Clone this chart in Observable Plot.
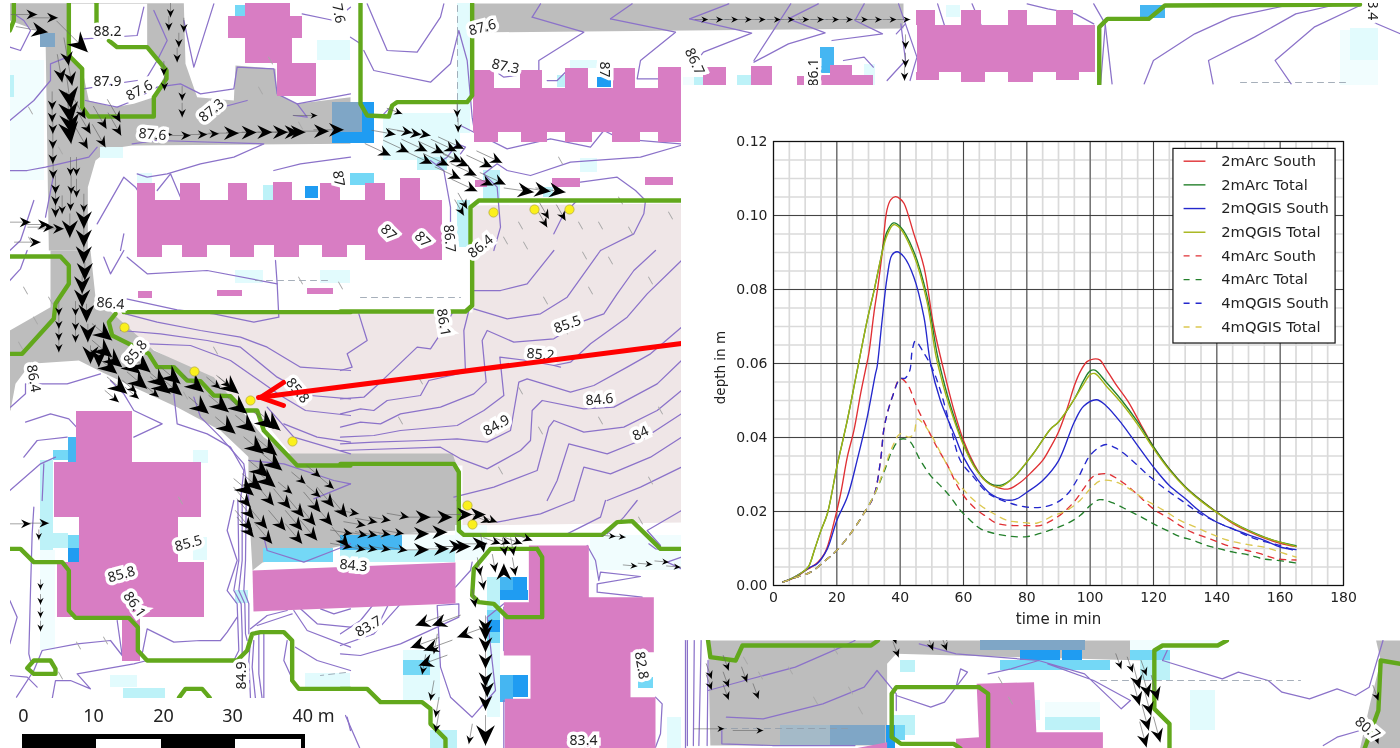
<!DOCTYPE html>
<html><head><meta charset="utf-8">
<script src="https://cdn.jsdelivr.net/npm/d3@7"></script>
<script src="https://cdn.jsdelivr.net/npm/@observablehq/plot@0.6"></script>
<style>
html,body{margin:0;padding:0;background:#fff;width:1400px;height:748px;overflow:hidden}
#map,#chart{position:absolute;left:0;top:0}
svg{display:block;background:transparent!important;filter:blur(.55px)}
</style></head><body><div id="map"></div><div id="chart"></div>
<script>
/* ---------- chart data: [minute, depth in m] ---------- */
const arc2South=[[3,.001],[5,.0015],[8,.0028],[10,.004],[12,.005],[14,.0063],[16,.0085],[17,.0104],[19,.0167],[21.2,.0248],[23.3,.0347],[25.4,.0419],[27.5,.0518],[29,.0581],[30.1,.0627],[31.7,.0735],[33,.081],[34.3,.0897],[35.8,.1014],[37,.1042],[38.5,.1051],[40,.1045],[41.2,.1033],[44.3,.0951],[47.5,.0861],[50.6,.07],[53.8,.058],[57,.0473],[60,.0392],[63.3,.0329],[66.3,.0288],[69.5,.027],[72,.0262],[74.3,.0261],[78,.0279],[82,.0311],[85,.0338],[87.5,.0374],[90,.0415],[93,.0485],[95,.054],[97,.058],[99,.0605],[101,.0612],[103,.061],[105,.0585],[108,.0545],[112,.0497],[116,.0435],[120,.0375],[125,.0315],[130,.0267],[135,.023],[140,.0198],[145,.0168],[150,.0146],[155,.0128],[160,.0114],[165,.0105]];
const arc2Total=[[3,.001],[6,.002],[9,.0035],[11,.005],[13,.0098],[15,.0149],[17,.0194],[20,.032],[23.3,.0446],[26.4,.058],[29.6,.0717],[31.7,.0795],[33.8,.088],[35.8,.0955],[37.9,.098],[40,.097],[44.2,.0905],[48.4,.0785],[51.7,.0625],[53.5,.056],[55.4,.05],[60,.0383],[64.3,.0311],[68.5,.0275],[72.2,.0272],[76,.0293],[82,.0356],[87.5,.0423],[90,.0442],[95,.0504],[98,.0555],[100,.058],[101.5,.0582],[105,.055],[110,.05],[115,.0442],[120,.0375],[125,.0315],[130,.0267],[135,.023],[140,.0198],[145,.0171],[150,.0149],[155,.0131],[160,.0117],[165,.0108]];
const qgis2South=[[3,.001],[6,.002],[9,.0035],[11.7,.005],[13.8,.0059],[17,.0099],[20,.0176],[23.3,.0239],[26.4,.0338],[29.6,.0455],[32.2,.0572],[32.7,.059],[34.3,.0717],[35.9,.0834],[37.4,.0893],[39,.0902],[41.2,.0888],[44.3,.0834],[47.5,.0726],[49.6,.06],[52.7,.05],[57,.041],[60,.0347],[64.3,.0288],[68.5,.0248],[72.7,.0232],[76.4,.0233],[80,.0252],[85,.0284],[90,.0337],[95,.0442],[98,.0485],[102,.0502],[105,.0486],[110,.0437],[115,.0378],[120,.032],[125,.027],[130,.0235],[135,.0198],[140,.0171],[145,.0153],[150,.0137],[155,.0122],[160,.0104],[165,.0097]];
const qgis2Total=[[3,.001],[6,.002],[9,.0035],[11,.005],[13,.0098],[15,.0149],[17,.0194],[20,.032],[23.3,.0446],[26.4,.058],[29.6,.0717],[31.7,.0795],[33.8,.088],[35.8,.0945],[37.9,.0975],[40,.0965],[44.2,.0895],[48.4,.077],[51.2,.0625],[53,.056],[54.8,.0505],[59.6,.0387],[63.8,.0315],[68,.0275],[71.2,.0266],[74.8,.0284],[82,.0356],[87.5,.0423],[90,.0442],[95,.0504],[98,.0545],[100,.057],[101.5,.0573],[105,.054],[110,.0492],[115,.0435],[120,.037],[125,.0312],[130,.0265],[135,.0228],[140,.0197],[145,.017],[150,.0148],[155,.013],[160,.0117],[165,.0105]];
const arc4South=[[3,.0009],[6.4,.002],[11.7,.0036],[17,.0072],[20,.0095],[24.3,.014],[28.5,.0194],[31.7,.0243],[33.8,.0338],[34.8,.0419],[35.9,.0464],[37.5,.0509],[40,.0559],[42.2,.0545],[45.3,.0482],[48.4,.0428],[51.6,.0374],[54.7,.0329],[58.9,.0257],[63.2,.0212],[67.4,.0185],[70.5,.0168],[75.8,.0162],[80,.0162],[84.2,.0162],[87.9,.0176],[91.6,.0198],[95.3,.023],[97.9,.0261],[101,.0295],[105.3,.0302],[109,.0286],[113.2,.0259],[116.9,.023],[120.6,.0203],[124.2,.0185],[128.4,.0162],[132.1,.0144],[136.3,.0131],[140.5,.0117],[144.7,.0104],[148.9,.0096],[153.7,.0086],[159,.0072],[165,.0069]];
const arc4Total=[[3,.0009],[6.4,.002],[11.7,.0036],[17,.0072],[20,.0095],[24.3,.014],[28.5,.0194],[31.7,.0243],[34.8,.0305],[37.5,.0365],[40,.0395],[42.7,.0392],[46.4,.0338],[49.6,.0297],[52.7,.027],[55.9,.0239],[59,.0203],[62.2,.0176],[65.4,.0153],[69.6,.0141],[74.9,.0133],[80,.0132],[84.2,.0141],[88.4,.0153],[92.6,.0167],[96.8,.0189],[100,.0216],[103,.0232],[107.2,.0223],[112,.0203],[116.2,.0185],[119.9,.0167],[124.2,.0149],[128.4,.0132],[132.6,.0122],[136.8,.0108],[141,.0099],[145.2,.009],[149.9,.0083],[154.7,.0072],[159,.0068],[165,.0061]];
const qgis4South=[[3,.0009],[6.4,.002],[11.7,.0036],[17,.0072],[20,.0095],[24.3,.014],[28.5,.0194],[31.7,.0243],[33.8,.0338],[34.8,.0419],[35.9,.0464],[37.5,.0509],[40,.0559],[41.5,.056],[43,.058],[43.8,.0635],[44.8,.0661],[47.5,.0628],[50.1,.0588],[52.7,.0527],[56,.0425],[59,.0338],[63,.0295],[67,.0255],[70,.0238],[75.3,.0221],[80,.0212],[85,.0212],[89.2,.0223],[92.9,.0248],[96,.0288],[98.1,.0324],[99.9,.0351],[102.9,.0374],[105,.0381],[108,.0372],[111.8,.0349],[115.5,.032],[119,.0293],[122.9,.0266],[126.6,.0243],[130.3,.0221],[134,.0198],[140,.0171],[145,.0153],[150.5,.0131],[155.8,.0117],[160,.0108],[165,.0092]];
const qgis4Total=[[3,.0009],[6.4,.002],[11.7,.0036],[17,.0072],[20,.0095],[24.3,.014],[28.5,.0194],[31.7,.0243],[34.8,.0311],[37.5,.0374],[40,.041],[42.7,.0401],[44.3,.041],[45.4,.045],[46.9,.0441],[49.6,.041],[52.7,.036],[57,.0293],[61.2,.0248],[65.4,.0216],[69.6,.0194],[73.8,.0176],[78,.0171],[83.3,.0169],[88.4,.0189],[92.6,.0203],[96.8,.023],[100,.0261],[103,.0282],[106,.0284],[109.5,.0275],[113.2,.0257],[117,.0234],[120.6,.0216],[124.2,.0198],[128.4,.0176],[133.2,.0158],[138,.014],[143.2,.0123],[149.5,.0111],[155.8,.0102],[160,.009],[165,.0077]];
const legendLabels=["2mArc South","2mArc Total","2mQGIS South","2mQGIS Total","4mArc South","4mArc Total","4mQGIS South","4mQGIS Total"];
const legendColors=["#e03034","#24802c","#2428cc","#a4b414","#e03034","#24802c","#2428cc","#dcc850"];
const seriesList=[arc2South,arc2Total,qgis2South,qgis2Total,arc4South,arc4Total,qgis4South,qgis4Total];
const xTicks=[0,20,40,60,80,100,120,140,160,180];
const yTicks=[0,.02,.04,.06,.08,.1,.12];

/* ---------- map data, read in map units (ox,oy,sx: crop origin & scale of each reading) ---------- */
const toMap=(rows,ox,oy,sx=3)=>rows.map(r=>r.map(([a,b])=>[ox+a/sx,oy+b/3]));
const parkPolys=[[[110,312],[472,312],[472,205],[681,203],[681,522],[462,525],[462,465],[300,465],[263,420],[200,375],[110,325]]];
const greyTop=toMap([[[10,8],[550,8],[555,190],[590,290],[700,300],[705,195],[825,205],[830,280],[890,310],[1050,290],[1050,430],[395,435],[330,445],[285,480],[262,560],[262,750],[145,750],[135,100],[28,60]]],0,0);
const greyDiag=toMap([[[28,240],[150,170],[150,0],[270,0],[285,140],[360,210],[460,300],[640,380],[790,560],[890,630],[1050,640],[1050,750],[745,750],[745,620],[660,540],[530,470],[400,410],[305,365],[235,330],[90,340],[45,400],[30,480],[28,480]]],0,250);
const greyBlock=[[[248,453],[452,453],[458,470],[458,530],[400,533],[262,562],[252,570],[248,500]],[[680,3],[903,3],[903,28],[470,32],[470,3]]];
const greyBottom=toMap([[[60,30],[1000,30],[1010,90],[470,70],[450,100],[450,345],[65,345]],[[1515,30],[1568,30],[1568,354],[1480,354],[1500,230],[1525,90]]],680,630,2.178);
const whiteInner=toMap([[[210,10],[440,10],[440,135],[500,210],[460,290],[400,310],[340,320],[265,300],[245,205],[205,165]]],0,0);
const faintCells=[[10,60,44,180],[590,535,681,570],[40,550,55,650],[1340,30,1378,85],[1045,702,1100,730],[1130,640,1220,650],[402,535,455,550],[455,525,487,560],[683,77,703,85]];
const paleCells=[[100,147,123,158],[317,40,350,60],[137,173,152,183],[350,173,360,185],[457,3,470,133],[383,113,460,160],[580,158,597,172],[570,60,597,68],[235,270,263,283],[320,270,350,283],[193,450,208,463],[110,675,137,687],[305,673,350,687],[193,537,207,560],[487,643,500,717],[667,717,681,748],[403,650,440,700],[946,5,960,17],[864,64,875,85],[1350,28,1378,60],[1030,700,1040,720],[1190,690,1215,730]];
const lightCells=[[10,75,14,97],[263,185,273,200],[417,157,447,170],[483,170,500,200],[557,75,565,87],[543,187,553,197],[457,200,470,247],[40,460,53,550],[53,533,68,548],[123,688,165,698],[235,590,248,603],[340,550,455,562],[487,577,500,610],[430,730,457,748],[1140,650,1170,680],[1045,717,1100,730],[893,715,915,735],[694,77,703,85],[737,75,751,85],[900,660,915,672]];
const midCells=[[235,5,245,16],[53,450,68,460],[68,535,80,548],[350,173,374,185],[487,610,500,620],[487,632,500,643],[403,660,430,675],[638,677,653,688],[263,548,333,562],[1130,650,1170,660],[893,725,905,740],[1000,660,1110,670]];
const blueCells=[[68,437,77,463],[500,577,513,590],[500,675,513,702],[340,535,402,550],[1140,5,1165,18],[820,47,834,73]];
const deepCells=[[305,186,318,198],[597,77,611,87],[68,548,80,562],[513,577,527,590],[500,590,528,600],[487,620,500,632],[513,675,528,697],[362,102,374,143],[332,132,362,143],[1062,650,1082,660],[1020,650,1060,660],[886,725,895,748]];
const greyBlueCells=[[332,102,362,132],[40,33,55,47],[830,725,885,745],[980,640,1085,650]];
const slateCells=[[780,725,830,745]];
const buildingRects=[[245,3,290,16],[228,16,302,38],[245,38,292,63],[277,63,316,96],
 [473,88,681,132],[474,70,494,88],[520,70,542,88],[565,68,588,88],[613,68,635,88],[658,67,681,88],[474,132,498,142],[521,132,547,142],[565,132,592,142],[612,132,640,142],[658,132,681,142],
 [552,178,580,187],[645,177,673,185],[475,180,487,187],
 [137,200,442,245],[137,183,155,200],[180,183,200,200],[228,183,247,200],[273,182,292,200],[320,183,340,200],[365,183,385,200],[400,178,420,200],[137,245,162,257],[182,245,207,257],[230,245,254,257],[274,245,299,257],[322,245,347,257],[365,245,442,260],
 [138,291,152,298],[217,290,242,296],[307,288,333,294],
 [76,411,132,462],[54,462,201,517],[79,517,178,562],[57,562,204,617],[122,617,140,661],
 [917,25,1095,72],[916,10,935,25],[961,10,981,25],[1008,10,1027,25],[1056,10,1073,25],[916,72,939,80],[961,72,985,82],[1008,72,1033,82],[1056,72,1079,80],
 [703,67,726,85],[751,66,772,85],[797,76,804,85],[821,75,873,85],[830,65,852,75]];
const buildingPolys=[[[252,570],[455,562],[455,603],[253,611]],
 ...toMap([[[565,135],[745,135],[745,290],[940,290],[940,455],[870,455],[870,590],[945,590],[945,748],[493,748],[493,595],[570,595],[570,465],[490,465],[490,305],[565,305]]],340,500),
 ...toMap([[[645,160],[770,155],[775,305],[920,305],[920,354],[600,354],[600,325],[650,320]],[[380,354],[450,335],[450,354]]],680,630,2.178)];
const contoursLeftTop=toMap([[[28,360],[100,300],[150,240],[150,190],[200,170]],[[28,140],[60,150],[90,90],[70,60],[40,40]],[[250,115],[410,105],[430,20]],[[550,60],[580,200],[640,10]],[[255,300],[350,320],[400,300],[470,260],[540,250],[600,280],[700,265],[710,200],[820,205],[830,280],[890,310],[920,350],[880,345]],[[890,310],[1050,280]],[[250,265],[340,250],[410,240]],[[395,430],[470,420],[790,430],[700,470],[600,490],[500,520],[440,530],[410,520]],[[28,510],[80,510],[135,500],[265,470],[290,440]],[[820,510],[900,490],[1050,470]],[[290,670],[370,530],[405,560],[430,600]],[[135,650],[160,520]],[[470,570],[510,520],[540,590]],[[905,40],[1000,60],[1050,20]],[[100,600],[60,720],[28,750]],[[360,750],[370,700]],[[460,30],[500,120],[470,180],[440,230]],[[590,340],[740,300]]],0,0);
const contoursLeftMid=toMap([[[378,145],[530,178],[640,190],[760,215],[835,200],[830,100],[825,30]],[[375,190],[470,215],[600,240],[720,260],[800,290],[900,350],[1050,360]],[[360,240],[480,250],[620,270],[720,290],[830,380],[930,435],[1050,445]],[[445,280],[570,285],[690,330],[840,435],[915,480],[1050,495]],[[380,20],[440,70],[620,60],[830,100]],[[28,90],[60,55],[80,0]],[[310,20],[330,70],[370,0]],[[75,515],[150,490],[205,505],[228,530]],[[70,620],[110,570],[200,560]],[[28,720],[120,640],[165,620]],[[300,370],[200,400],[75,400],[75,430],[30,470]],[[330,390],[370,430],[400,480],[485,520],[400,560]],[[520,430],[530,520],[620,550],[690,590],[730,660],[720,750]],[[580,440],[600,500],[660,560],[730,640],[745,750]],[[745,630],[850,640],[1000,690],[1050,700]],[[940,745],[1050,700]],[[850,520],[950,560],[1050,575]],[[800,470],[880,560],[1050,610]],[[130,640],[125,750]]],0,250);
const contoursPark=toMap([[[0,360],[35,350],[20,310],[80,270],[55,190]],[[0,445],[70,440],[120,395],[230,290],[270,295],[300,250],[340,180]],[[0,490],[60,475],[100,480],[140,450],[240,435],[265,390],[375,365],[370,240],[385,180]],[[0,530],[60,515],[120,520],[180,490],[300,470],[400,430],[437,395],[425,270],[440,240],[520,275],[640,265],[720,215],[790,190],[830,130],[880,60],[945,0]],[[0,560],[100,555],[180,540],[350,525],[430,480],[490,435],[478,320],[560,330],[640,345],[690,335],[750,280],[860,200],[920,130],[1023,30]],[[0,580],[100,575],[250,570],[350,565],[440,575],[510,540],[535,395],[560,385],[690,425],[760,405],[860,350],[930,310],[1023,230]],[[0,600],[300,590],[360,625],[440,655],[540,600],[570,570],[575,480],[605,450],[730,475],[820,470],[950,400],[1023,330]],[[340,740],[460,710],[590,660],[625,530],[640,510],[730,545],[850,530],[950,480],[1023,420]],[[620,750],[650,690],[685,580],[800,610],[900,570],[1023,490]],[[700,750],[730,650],[810,670],[930,620],[1023,560]],[[800,750],[900,710],[1023,650]],[[395,120],[480,120],[560,100],[640,0]],[[400,175],[500,205],[600,190],[680,140],[780,0]],[[640,345],[660,350]]],340,250);
const contoursLowerLeft=toMap([[[28,430],[50,350],[28,300]],[[100,20],[95,100],[90,270],[85,460],[90,480]],[[28,525],[80,530],[110,560]],[[48,590],[100,510],[125,450],[230,430],[330,420],[365,465],[350,360]],[[155,595],[165,540],[210,540],[270,565],[230,520],[400,490],[440,480]],[[425,460],[440,385],[520,425],[600,420],[660,420],[680,395],[710,350]],[[700,0],[680,90],[710,180],[680,270],[710,310],[715,450],[700,480]],[[712,0],[715,180],[700,270],[722,310],[725,400],[725,470]],[[725,0],[725,180],[715,270],[733,310],[735,400],[740,420]],[[737,0],[735,180],[730,270],[745,310],[745,400]],[[750,420],[745,480],[750,595]],[[760,420],[755,500],[765,595]],[[775,400],[775,520],[785,595]],[[790,400],[790,595]],[[750,385],[800,345],[860,330]],[[770,375],[860,345],[875,340]],[[880,330],[920,390],[1050,440]],[[900,325],[950,370],[1050,380]],[[960,325],[1000,340],[1050,325]],[[885,440],[950,480],[1050,510]],[[860,420],[850,480],[880,545]],[[790,110],[800,150],[910,185],[1000,150],[1050,130]],[[1040,650],[1050,690]]],0,500);
const contoursLowerMid=toMap([[[0,400],[60,360],[100,310]],[[0,435],[100,400],[180,310]],[[115,370],[145,310]],[[0,460],[60,465],[180,430],[290,380],[355,350],[355,310],[290,315],[300,500],[330,590],[395,650],[465,570],[440,350],[490,310]],[[345,260],[390,210],[395,185]],[[490,320],[490,450]],[[740,135],[765,180],[775,240],[780,215],[900,228],[770,250],[770,275],[905,290]],[[925,130],[945,145],[1023,150]],[[1023,170],[980,185],[1023,205]],[[15,645],[60,748]],[[945,590],[965,610],[960,700],[945,740]],[[700,0],[600,40],[470,65]],[[795,0],[780,50],[680,100]],[[890,0],[850,50],[800,100]],[[1023,30],[920,90],[960,135]],[[490,600],[490,748]],[[1035,420],[1035,748]]],340,500);
const contoursTopMid=toMap([[[50,10],[80,80],[110,150],[200,155],[270,50],[280,10]],[[40,150],[70,210],[240,245],[300,190],[325,90],[350,180],[365,350],[370,380]],[[0,110],[30,130]],[[545,50],[570,10]],[[545,50],[700,95],[565,180],[565,210]],[[780,55],[845,10]],[[780,55],[975,95],[870,180],[860,235],[925,235]],[[445,220],[460,230],[500,225]],[[590,240],[620,240],[650,210]],[[330,375],[470,445],[600,415],[720,440],[760,390],[810,415],[990,430]],[[400,520],[440,490],[470,510],[540,525],[660,485],[870,470],[990,435]],[[690,545],[800,530],[855,570],[885,600],[880,640],[850,700],[750,750]],[[240,480],[280,510],[300,620],[300,690]],[[100,340],[130,310]],[[260,490],[290,470],[320,430],[345,440],[330,460]],[[400,520],[440,560],[450,680],[430,750]],[[610,700],[640,640],[680,600]]],350,0);
const contoursTopRight=toMap([[[20,55],[105,10]],[[20,55],[155,98],[50,155],[30,190]],[[160,180],[240,10]],[[160,185],[235,130],[315,97],[235,55],[300,10]],[[355,180],[400,170],[420,200]],[[330,120],[440,100],[380,60],[400,10]],[[470,100],[490,70],[475,10]],[[490,70],[515,170],[500,240]],[[450,240],[490,180],[480,70]],[[900,10],[925,70],[940,250]],[[925,75],[915,250]],[[1010,250],[1030,180],[1120,100],[1200,50],[1320,15]],[[1160,250],[1150,180],[1250,110],[1340,40],[1420,15]],[[1330,250],[1295,180],[1380,80],[1480,15]],[[1500,60],[1568,100]],[[560,10],[575,75]],[[655,75],[635,10]],[[755,10],[800,25],[860,40],[900,70]]],680,0,2.178);
const contoursBottom=toMap([[[15,30],[15,345]],[[30,30],[28,345]],[[45,30],[40,345]],[[60,90],[58,345]],[[60,180],[140,150],[250,110],[350,50],[380,30]],[[100,260],[180,265],[310,220],[400,170],[428,120],[470,190],[470,240]],[[670,130],[720,115],[780,90],[880,130],[960,235],[980,210],[900,150],[800,100]],[[600,170],[575,215],[545,230],[470,195]],[[600,170],[610,115],[625,125],[600,170]],[[1050,90],[1180,145],[1215,125],[1280,150],[1310,185],[1370,205],[1430,175],[1470,195],[1500,170],[1530,30]],[[1060,60],[1050,90]],[[90,300],[90,340],[200,345],[380,345]],[[520,40],[600,70],[780,90]],[[1400,345],[1430,320],[1480,300]]],680,630,2.178);
const boundaries=[...toMap([[[40,8],[40,60],[28,90]],[[205,8],[205,165],[245,205],[245,320],[265,348],[460,348],[460,290],[498,235],[498,210],[440,140],[350,140],[325,120]],[[288,8],[288,70]]],0,0),
 ...toMap([[[30,8],[30,310],[50,345],[115,348],[125,315],[140,305],[350,305],[365,285],[365,8]],[[360,750],[360,620],[385,600],[993,600]]],350,0),
 ...toMap([[[370,185],[1050,185]],[[345,190],[325,215],[335,255],[445,310],[470,350],[520,350],[560,390],[600,392],[640,435],[690,437],[730,480],[770,480],[790,540],[890,645],[1050,645]],[[28,18],[180,18],[205,45],[205,100],[165,160],[160,205],[65,310],[28,310]]],0,250),
 ...toMap([[[395,25],[395,165],[375,183],[0,183]],[[0,640],[340,640],[355,665],[355,750]]],340,250),
 ...toMap([[[355,0],[355,90],[370,103],[785,103],[830,65],[875,62],[960,145],[1023,145]],[[0,565],[80,565],[120,605],[245,605],[270,625],[270,670],[315,715],[315,748]],[[590,145],[450,145],[400,205],[395,285],[415,305],[460,310],[500,350],[605,350],[605,170],[590,145]]],340,500),
 ...toMap([[[28,145],[60,145],[100,185],[185,185],[205,210],[205,330],[225,352],[385,352],[412,380],[412,450],[440,480],[710,480],[740,450],[755,400],[780,395],[850,395],[875,420],[875,540],[895,565],[1050,565]],[[80,503],[100,480],[150,480],[165,505],[165,520],[100,520],[80,503]],[[535,592],[555,565],[605,565],[628,592]]],0,500),
 ...toMap([[[912,254],[912,80],[930,55],[1020,55],[1055,15],[1480,12]]],680,0,2.178),
 ...toMap([[[60,30],[65,80],[120,90],[135,45],[415,45],[430,30]],[[1190,30],[1170,45],[1050,45],[1032,60],[1032,235],[1065,280],[1065,354]],[[1568,100],[1525,90],[1520,240],[1490,354]],[[650,170],[670,190],[670,354]],[[650,170],[470,170],[460,190],[460,320],[480,340],[595,340],[610,354]]],680,630,2.178)];
const dots=[[124,327],[194,371],[250,400],[292,441],[493,212],[534,209],[569,209],[467,505],[472,524]];
const spotLabels=[["88.2",107,31,0],["87.9",107,81,0],["87.6",139,90,-28],["87.3",211,110,-40],["87.6",152,134,5],["7.6",338,13,80],["87.6",482,27,-15],["87.3",505,66,12],["87",604,69,90],["86.7",694,61,65],["86.1",813,72,-90],["3.4",1372,10,90],["87",338,178,80],["87",388,232,45],["87",422,239,45],["86.7",449,238,85],["86.4",480,246,-40],["86.4",110,303,5],["85.8",135,352,-50],["85.8",297,390,50],["86.4",33,378,80],["86.1",443,322,80],["85.5",567,324,-20],["85.2",540,354,5],["84.6",599,399,-5],["84.9",496,425,-30],["84",640,433,-25],["85.5",188,543,-15],["85.8",121,574,-15],["86.1",134,604,55],["84.3",353,565,5],["83.7",368,626,-30],["84.9",241,675,-90],["82.8",641,665,80],["83.4",583,740,0],["80.7",1367,728,40]];
/* arrow groups: origin x, origin y, x scale, direction, head size, shaft length, tips */
const arrowGroups=[
 [0,0,3,180,7,18,[[155,328],[155,365],[157,400],[157,445],[157,490],[158,535],[165,580],[165,615],[165,650]]],
 [0,0,3,170,10,28,[[205,195],[185,245],[215,255]]],[0,0,3,172,16,32,[[212,325],[212,370],[215,405],[212,430]]],
 [0,0,3,150,8,26,[[255,355],[270,400],[262,445],[318,385],[315,440],[360,365],[362,405]]],
 [0,0,3,180,6,14,[[510,50],[505,90],[550,95],[535,140],[530,185],[490,225],[492,270],[545,300],[545,350]]],
 [0,0,3,180,6,18,[[210,525],[228,525],[212,580],[228,590],[210,630],[250,635],[185,640]]],
 [0,0,3,90,7,20,[[515,402],[570,405],[620,402],[655,400]]],[0,0,3,90,11,30,[[715,398],[768,396],[815,395],[862,395],[897,395],[915,395],[985,392],[1030,388]]],
 [0,0,3,90,8,26,[[110,42],[172,52],[90,665],[145,672],[160,680],[190,685],[120,725]]],[0,0,3,100,12,32,[[142,95]]],[0,0,3,135,15,44,[[262,155]]],[0,0,3,180,13,24,[[250,685],[250,740],[208,712]]],[0,0,3,90,5,24,[[950,345]]],
 [0,250,3,180,13,18,[[250,40],[253,90],[245,130],[245,170],[258,215],[262,275],[270,340],[295,350]]],
 [0,250,3,180,6,14,[[175,195],[175,235],[175,270],[175,305],[225,195],[225,240],[225,275]]],
 [0,250,3,130,14,26,[[335,270],[335,320],[365,350],[350,370],[420,370],[450,365],[380,430],[440,415],[500,410],[540,400],[510,430],[545,435],[610,425],[625,490],[685,485],[740,490],[705,550],[765,545],[715,430],[820,535],[840,540],[790,610],[830,615],[845,660],[805,680],[825,710],[785,720],[760,735]]],
 [0,250,3,130,7,18,[[408,425],[475,440],[660,415],[690,410],[915,700],[960,680],[1000,715],[875,730],[960,740],[355,455],[415,445]]],
 [0,500,3,140,10,26,[[750,20],[760,55],[755,90],[760,110],[820,15],[870,25],[910,50],[960,35],[1000,20],[800,85],[855,90],[905,90],[945,75],[995,75],[1040,50],[815,130],[905,130],[950,120],[1045,140]]],
 [0,500,3,90,7,22,[[90,70],[145,68]]],[0,500,3,180,5,10,[[120,268],[120,312],[120,352],[120,392],[115,118]]],
 [340,500,3,100,7,22,[[55,40],[110,65],[150,60],[205,50],[75,75],[35,100],[80,105],[110,105],[150,103],[190,100],[35,140],[75,148],[110,148],[150,148],[200,150]]],
 [340,500,3,90,11,28,[[270,50],[335,50],[395,42],[435,42],[265,100],[320,95],[265,148],[325,145],[370,138],[390,138],[440,130]]],
 [340,500,3,110,7,18,[[450,65],[470,65],[480,130],[510,130],[545,130],[575,120]]],[340,500,3,95,5,14,[[825,108],[855,110],[890,197],[935,192],[985,185],[1020,200]]],
 [340,500,3,170,7,18,[[430,155],[495,165],[520,165],[420,225],[465,215],[525,225],[430,268],[405,320]]],[340,500,3,0,12,10,[[490,190]]],
 [340,500,3,250,11,30,[[225,375],[275,375],[350,410],[210,442],[250,450],[235,495]]],[340,500,3,190,6,20,[[245,522],[285,650],[285,695],[270,600],[280,460],[385,730]]],
 [340,500,3,180,11,18,[[435,400],[435,420],[435,455],[435,505],[435,560],[440,590],[435,630]]],[340,500,3,180,15,30,[[435,735]]],
 [350,0,3,110,6,16,[[155,340]]],[350,0,3,180,6,14,[[320,350],[323,395]]],[350,0,3,100,8,24,[[135,402],[185,397],[212,403],[240,405]]],
 [350,0,3,115,9,28,[[120,465],[175,455],[230,452],[280,458],[318,452],[340,445],[245,490],[295,495],[335,485],[355,497],[378,525],[425,500],[455,487],[330,535],[428,555],[465,552],[380,572]]],
 [350,0,3,98,12,30,[[550,575],[600,573],[645,575]]],[350,0,3,150,7,18,[[350,625],[340,645],[595,655],[590,680],[645,660]]],
 [680,0,2.178,90,5,13,[[60,57],[92,57],[125,57],[155,57],[185,57],[218,57],[248,57],[280,57],[312,57],[345,57],[375,57],[408,57],[438,57],[470,57],[500,57]]],
 [680,0,2.178,180,6,14,[[490,145],[490,200],[488,240]]],
 [680,630,2.178,160,6,16,[[68,145],[68,178],[105,120],[145,155],[105,170],[105,208],[170,205],[470,40],[475,80],[580,30],[550,60],[580,60],[960,115],[985,125],[1015,135],[1520,210],[1520,340]]],
 [680,630,2.178,90,5,30,[[95,295],[180,300]]],
 [680,630,2.178,165,10,26,[[1000,175],[1020,200],[1040,210],[1000,225],[1025,255],[1020,300],[1045,335],[1015,350]]]];
const faintDashes=[[580,225],[584,255],[590,290],[610,260],[630,230],[650,280],[670,215],[545,300],[565,330],[520,390],[540,430],[600,420],[650,480],[640,520],[660,410],[500,470],[420,380],[400,420],[340,285],[300,280],[215,350],[50,300],[35,320],[20,345],[30,110],[60,150],[175,385],[185,395],[180,500],[105,640],[60,675],[78,645],[380,535],[560,160],[30,240],[25,290],[270,60],[260,90],[300,125],[800,20],[1000,680],[1010,700],[745,660],[760,675],[790,670],[815,700],[835,650],[850,690],[860,710],[520,225],[525,245],[505,240],[600,225],[620,200]];
const dashLines=[[[457,5],[457,130]],[[700,19],[900,19]],[[1240,82],[1350,82]],[[1100,680],[1300,680]],[[720,728],[850,728]],[[255,280],[330,280]],[[360,297],[460,297]],[[345,672],[320,675]]];
const redArrow=[[[681,343],[258,397]],[[283,382],[260,397],[283,405]]];
const scaleLabels=[["0",23],["10",93],["20",163],["30",232],["40 m",313]];
const scaleSegs=[[22,305,"#000"],[96,161,"#fff"],[235,301,"#fff"]];

/* ---------- map plot ---------- */
const flat=g=>g.flatMap((r,i)=>r.map(p=>({x:p[0],y:p[1],id:i})));
const poly=(g,fill)=>Plot.line(flat(g),{x:"x",y:"y",z:"id",fill,stroke:"none"});
const cells=(g,fill)=>Plot.rect(g,{x1:"0",y1:"1",x2:"2",y2:"3",fill});
const allContours=[...contoursLeftTop,...contoursLeftMid,...contoursPark,...contoursLowerLeft,...contoursLowerMid,...contoursTopMid,...contoursTopRight,...contoursBottom];
const arrows=arrowGroups.flatMap(([ox,oy,sx,rot,size,shaft,tips])=>tips.map(([a,b])=>({x:ox+a/sx,y:oy+b/3,rot,size:size*1.25,shaft})));
const shaftShape={draw(c,l){c.moveTo(0,0);c.lineTo(0,-l)}};
const dartShape={draw(c,l){c.moveTo(0,-l);c.lineTo(.5*l,.08*l);c.lineTo(0,-.28*l);c.lineTo(-.5*l,.08*l);c.closePath()}};
const map=Plot.plot({width:1400,height:748,margin:0,
 x:{domain:[0,1400],range:[0,1400],axis:null},y:{domain:[0,748],range:[0,748],axis:null},
 marks:[
  poly(parkPolys,"#efe6e7"),poly(greyTop,"#bdbdbd"),poly(greyDiag,"#bdbdbd"),poly(greyBlock,"#bdbdbd"),poly(greyBottom,"#bdbdbd"),poly(whiteInner,"#ffffff"),
  cells(faintCells,"#f1fdfe"),cells(paleCells,"#e2fbfd"),cells(lightCells,"#bdf2f8"),cells(midCells,"#74d8f6"),cells(blueCells,"#45b6f2"),cells(deepCells,"#1f9cf2"),cells(greyBlueCells,"#7fa6c6"),cells(slateCells,"#a4bac8"),
  Plot.line(flat(allContours),{x:"x",y:"y",z:"id",stroke:"#8b72c9",strokeWidth:1.25}),
  cells(buildingRects,"#d87dc3"),poly(buildingPolys,"#d87dc3"),
  Plot.line(flat(dashLines),{x:"x",y:"y",z:"id",stroke:"#8f9aa8",strokeWidth:.8,strokeDasharray:"6,5"}),
  Plot.vector(faintDashes,{x:"0",y:"1",length:{value:()=>8,scale:null},rotate:150,stroke:"#a8a8a8",strokeWidth:.9,shape:shaftShape}),
  Plot.line(flat(boundaries),{x:"x",y:"y",z:"id",stroke:"#62a81c",strokeWidth:4.4,strokeLinejoin:"round"}),
  Plot.vector(arrows,{x:"x",y:"y",length:{value:"shaft",scale:null},rotate:"rot",anchor:"end",stroke:"#666",strokeWidth:.6,shape:shaftShape}),
  Plot.vector(arrows,{x:"x",y:"y",length:{value:"size",scale:null},rotate:"rot",anchor:"end",fill:"#000",stroke:"none",shape:dartShape}),
  Plot.dot(dots,{x:"0",y:"1",r:4.6,fill:"#fbf01c",stroke:"#b8ae3c",strokeWidth:.8}),
  Plot.text(spotLabels,{x:"1",y:"2",text:"0",rotate:"3",fontFamily:"Noto Sans",fontSize:14,fill:"#222",stroke:"#fff",strokeWidth:7,strokeLinejoin:"miter"}),
  Plot.line(flat(redArrow),{x:"x",y:"y",z:"id",stroke:"#ff0000",strokeWidth:5,strokeLinecap:"round",strokeLinejoin:"miter"}),
  Plot.rect([[681,85,1400,640],[0,698,345,748],[0,0,10,698],[0,0,1400,3]],{x1:"0",y1:"1",x2:"2",y2:"3",fill:"#fff"}),
  Plot.text(scaleLabels,{x:"1",y:()=>716,text:"0",fontFamily:"Noto Sans",fontSize:18,fill:"#222"}),
  Plot.rect(scaleSegs,{x1:"0",x2:"1",y1:d=>d[2]==="#000"?734:739,y2:()=>748,fill:"2"})
 ]});
document.getElementById("map").append(map);

/* ---------- inset chart ---------- */
const legendTop=.11468,legendStep=.0064;
const legendRows=legendLabels.map((label,i)=>({label,color:legendColors[i],y:legendTop-legendStep*i,dash:i>3}));
const font={fontFamily:"DejaVu Sans",fontSize:14,fill:"#222"};
const chart=Plot.plot({width:1400,height:748,marginLeft:773,marginRight:57,marginTop:141,marginBottom:163,
 x:{domain:[0,180],axis:null},y:{domain:[0,.12],axis:null},
 marks:[
  Plot.ruleX(d3.range(0,181,5),{x:d=>d,stroke:"#dadada",strokeWidth:1.7}),
  Plot.ruleY(d3.range(0,.1201,.005),{y:d=>d,stroke:"#dadada",strokeWidth:1.7}),
  Plot.ruleX(xTicks,{x:d=>d,stroke:"#333",strokeWidth:.9}),
  Plot.ruleY(yTicks,{y:d=>d,stroke:"#333",strokeWidth:.9}),
  ...seriesList.map((s,i)=>Plot.line(s,{x:"0",y:"1",stroke:legendColors[i],strokeWidth:1.35,curve:"catmull-rom",strokeDasharray:i>3?"6,6":null})),
  Plot.frame({stroke:"#111",strokeWidth:1.2}),
  Plot.text(xTicks,{x:d=>d,y:()=>-.0033,text:d=>String(d),...font}),
  Plot.text(yTicks,{x:()=>-1.9,y:d=>d,text:d=>d.toFixed(2),textAnchor:"end",...font}),
  Plot.text(["time in min"],{x:()=>90,y:()=>-.0092,text:d=>d,...font,fontSize:15}),
  Plot.text(["depth in m"],{x:()=>-16.7,y:()=>.0589,text:d=>d,rotate:-90,...font,fontSize:13.5}),
  Plot.rect([0],{x1:()=>126.3,x2:()=>177.5,y1:()=>.118,y2:()=>.0654,fill:"#fff",stroke:"#111",strokeWidth:1.2}),
  Plot.link(legendRows.filter(d=>!d.dash),{x1:()=>129.5,x2:()=>136.4,y1:"y",y2:"y",stroke:"color",strokeWidth:1.4}),
  Plot.link(legendRows.filter(d=>d.dash),{x1:()=>129.5,x2:()=>136.4,y1:"y",y2:"y",stroke:"color",strokeWidth:1.4,strokeDasharray:"6,6"}),
  Plot.text(legendRows,{x:()=>141.4,y:"y",text:"label",textAnchor:"start",...font,fontSize:14.7})
 ]});
document.getElementById("chart").append(chart);
</script></body></html>
